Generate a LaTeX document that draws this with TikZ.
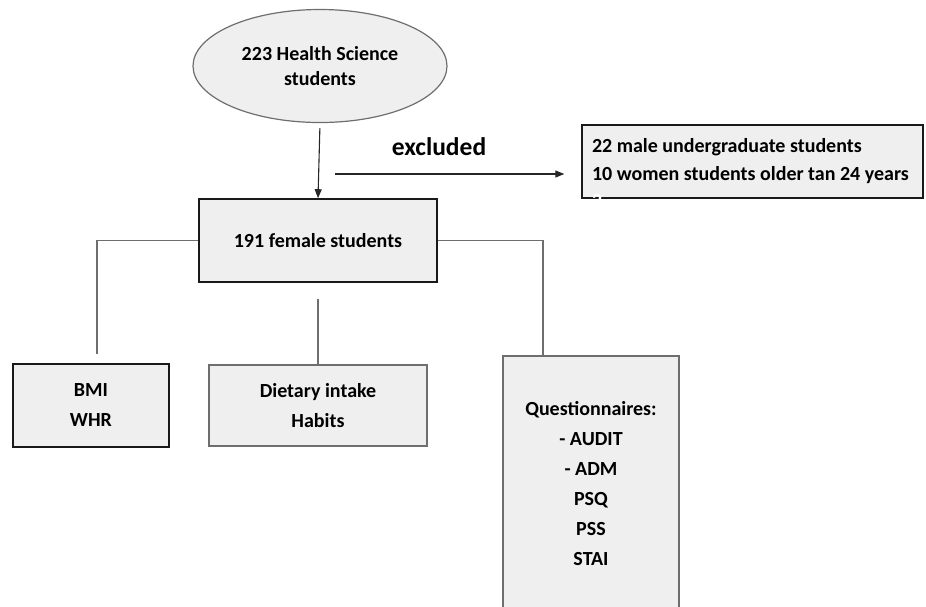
\documentclass[tikz,border=0pt]{standalone}
\usepackage{fontspec}
\setmainfont{Carlito}
\usetikzlibrary{arrows.meta,shapes.geometric}
\definecolor{boxgray}{HTML}{EFEFEF}
\definecolor{linegray}{HTML}{6E6E6E}
\tikzset{
  box/.style={draw=black!90, line width=1.6pt, fill=boxgray, inner sep=0pt, align=center,
    font=\bfseries\fontsize{20}{30}\selectfont},
  softbox/.style={box, draw=linegray, line width=1.2pt},
  conn/.style={draw=linegray, line width=1.1pt},
  arrowline/.style={draw=black!85, line width=1.1pt, -{Triangle[length=9pt,width=7pt]}}
}
\begin{document}
\begin{tikzpicture}[x=1pt,y=-1pt]
    \useasboundingbox (0,0) rectangle (926,606);
    \clip (0,0) rectangle (926,606);
    % source group
    \node[ellipse, draw=linegray, line width=1.2pt, fill=boxgray, minimum width=254, minimum height=113, inner sep=0pt,
      align=center, font=\bfseries\fontsize{20}{25}\selectfont] (all) at (320,66) {223 Health Science\\students};
    \node[box, minimum width=238, minimum height=83] (female) at (318,240.5) {191 female students};
    % exclusions
    \node[box, line width=1.4pt, minimum width=341, minimum height=73, text width=321, align=flush left, inner sep=10pt,
      font=\bfseries\fontsize{20}{28}\selectfont] (excl) at (752.5,161.5) {22 male undergraduate students\\10 women students older tan 24 years};
    \node[white, inner sep=0pt, anchor=north west, font=\bfseries\fontsize{20}{25}\selectfont] (stray) at (592,194) {2};
    \node[font=\bfseries\fontsize{25.5}{28}\selectfont] (exlabel) at (439,147) {excluded};
    \coordinate (exstart) at (335,174);
    % measures
    \node[box, minimum width=156, minimum height=83] (bmi) at (91,405.5) {BMI\\WHR};
    \node[softbox, minimum width=218, minimum height=81] (diet) at (318,405.5) {Dietary intake\\Habits};
    \node[softbox, minimum width=176, minimum height=256] (quest) at (591,484) {Questionnaires:\\- AUDIT\\- ADM\\PSQ\\PSS\\STAI};
    % connectors
    \draw[arrowline, shorten <=5pt] (all.south) -- (female.north);
    \draw[arrowline, shorten >=17pt] (exstart) -- (exstart -| excl.west);
    \draw[conn, shorten >=9pt] (female.west) -| ([xshift=6pt]bmi.north);
    \draw[conn, shorten <=16pt] (female.south) -- (diet.north);
    \draw[conn] (female.east) -| ([xshift=-48pt]quest.north);
\end{tikzpicture}
\end{document}
